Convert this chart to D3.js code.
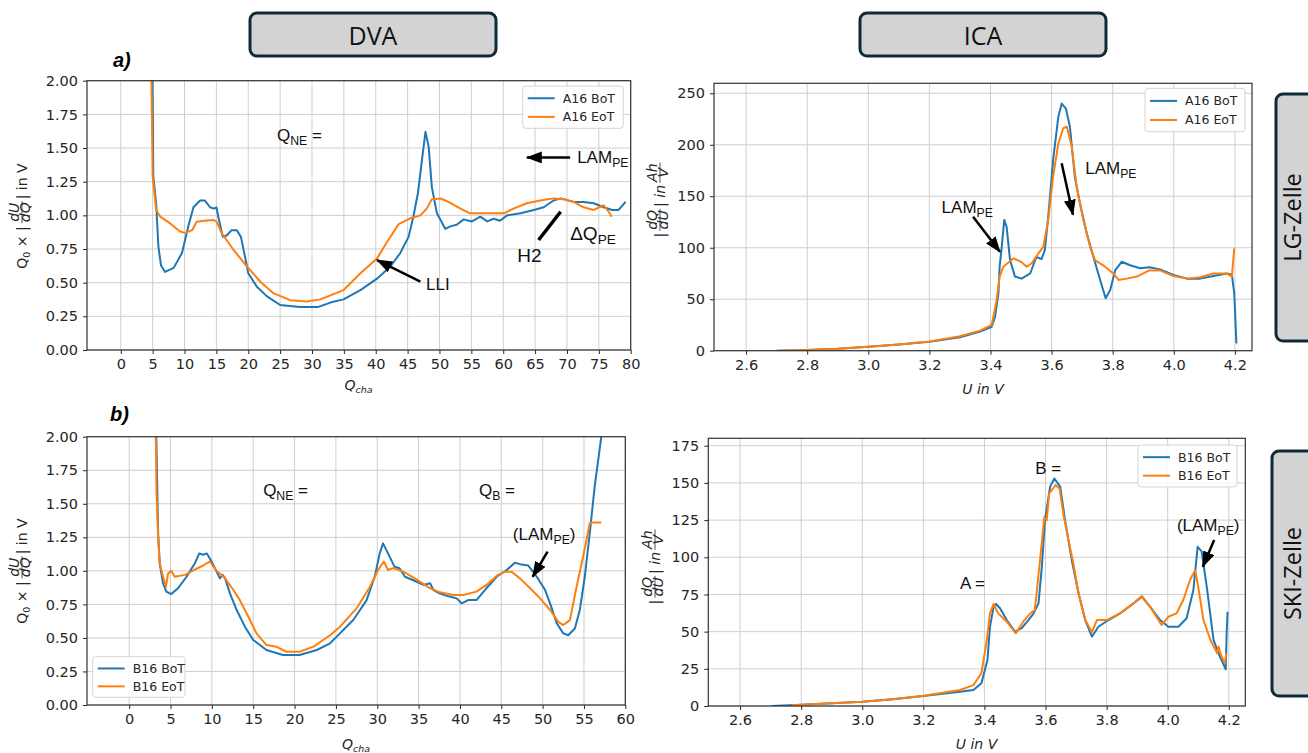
<!doctype html>
<html>
  <head>
    <meta charset="utf-8">
    <title>DVA / ICA</title>
    <script src="https://cdn.jsdelivr.net/npm/d3@7/dist/d3.min.js"></script>
    <style>
      body { margin: 0; background: #fff; }
      svg { display: block; }
      .tick text { font-family: "DejaVu Sans", sans-serif; font-size: 14.5px; fill: #262626; }
      .tick line { stroke: #262626; }
      .domain { display: none; }
      .lab { font-family: "DejaVu Sans", sans-serif; font-size: 14px; fill: #262626; }
      .note { font-family: "Liberation Sans", Arial, sans-serif; font-size: 17px; fill: #111; }
      .leg { font-family: "DejaVu Sans", sans-serif; font-size: 12.5px; fill: #262626; }
      .head { font-family: "Open Sans", sans-serif; font-size: 25px; fill: #111; }
    </style>
  </head>
  <body>
    <div id="chart"></div>
  <script>
    // ---- data ----
    var colours = ["#1f77b4", "#ff7f0e"];
    var namesA = ["A16 BoT", "A16 EoT"];
    var namesB = ["B16 BoT", "B16 EoT"];

    var dvaYTicks = [0, 0.25, 0.5, 0.75, 1, 1.25, 1.5, 1.75, 2];
    var dvaAXTicks = [0, 5, 10, 15, 20, 25, 30, 35, 40, 45, 50, 55, 60, 65, 70, 75, 80];
    var dvaBXTicks = [0, 5, 10, 15, 20, 25, 30, 35, 40, 45, 50, 55, 60];
    var icaXTicks = [2.6, 2.8, 3.0, 3.2, 3.4, 3.6, 3.8, 4.0, 4.2];
    var icaAYTicks = [0, 50, 100, 150, 200, 250];
    var icaBYTicks = [0, 25, 50, 75, 100, 125, 150, 175];

    // a) DVA, LG cell  [Q_cha, Q0*|dU/dQ|]
    var aDvaBoT = [[4.9,2.6],[5.1,1.29],[5.55,1.09],[5.9,0.77],[6.3,0.63],[6.95,0.58],[8.3,0.61],[9.6,0.72],[10.6,0.92],[11.4,1.06],[12.45,1.11],[13.2,1.11],[14.0,1.06],[14.6,1.05],[15.0,1.06],[15.3,0.99],[16.0,0.84],[16.6,0.85],[17.4,0.89],[18.2,0.89],[18.85,0.84],[19.5,0.69],[20.0,0.57],[21.35,0.47],[22.9,0.40],[25.0,0.334],[28.1,0.32],[31.0,0.32],[33.0,0.354],[34.95,0.376],[37.6,0.445],[40.2,0.53],[42.3,0.62],[43.85,0.72],[45.15,0.84],[45.9,0.99],[46.6,1.16],[47.25,1.41],[47.8,1.62],[48.3,1.51],[48.8,1.21],[49.6,1.015],[50.9,0.90],[51.8,0.92],[52.7,0.93],[53.8,0.97],[55.1,0.955],[56.4,0.99],[57.5,0.955],[58.5,0.975],[59.5,0.96],[60.6,1.0],[62.7,1.015],[64.8,1.04],[66.35,1.06],[67.9,1.11],[69.0,1.126],[71.05,1.10],[72.6,1.10],[74.2,1.09],[75.75,1.06],[77.1,1.04],[78.1,1.04],[79.2,1.10]];
    var aDvaEoT = [[4.65,2.6],[5.0,1.29],[5.55,1.04],[6.2,0.99],[7.75,0.94],[9.3,0.88],[10.1,0.87],[11.2,0.89],[11.9,0.953],[13.0,0.96],[14.55,0.965],[15.0,0.955],[15.85,0.867],[17.7,0.743],[19.8,0.62],[21.9,0.507],[24.0,0.42],[26.6,0.37],[29.2,0.36],[31.3,0.376],[34.95,0.445],[37.6,0.57],[40.2,0.68],[41.75,0.80],[43.6,0.935],[45.4,0.978],[47.0,1.0],[48.0,1.05],[48.8,1.12],[50.2,1.125],[51.4,1.10],[53.3,1.05],[54.8,1.015],[57.5,1.015],[60.1,1.015],[61.6,1.05],[63.7,1.09],[65.8,1.11],[67.9,1.126],[69.5,1.12],[71.05,1.10],[72.6,1.06],[74.2,1.04],[75.75,1.075],[76.5,1.03],[77.0,0.99]];

    // a) ICA, LG cell  [U, |dQ/dU|]
    var aIcaBoT = [[2.70,0],[2.80,0.8],[2.90,2],[3.0,3.9],[3.1,6],[3.2,8.7],[3.30,13],[3.366,18.5],[3.404,23.3],[3.415,33],[3.426,55.7],[3.43,81.6],[3.437,101],[3.445,127],[3.453,120],[3.464,88],[3.48,72],[3.502,70],[3.53,75],[3.55,91],[3.567,89],[3.578,98],[3.589,130],[3.605,185],[3.622,227],[3.633,240],[3.647,235],[3.66,217.5],[3.676,169],[3.693,143],[3.715,114],[3.737,91],[3.759,68.7],[3.777,51],[3.792,59],[3.808,78],[3.83,86.4],[3.857,83],[3.89,80],[3.92,81],[3.955,79],[3.999,73.5],[4.043,70],[4.086,70],[4.13,72.5],[4.173,75],[4.19,74],[4.198,55.7],[4.205,7]];
    var aIcaEoT = [[2.70,0],[2.80,0.8],[2.90,2],[3.0,3.9],[3.1,6],[3.2,9],[3.30,14],[3.366,19.5],[3.404,25],[3.42,49],[3.43,72],[3.442,81.6],[3.475,89.7],[3.50,86.4],[3.519,81.6],[3.535,84.9],[3.557,94.6],[3.573,101],[3.589,127],[3.605,169],[3.622,201],[3.638,216],[3.65,217.5],[3.666,198],[3.682,159],[3.704,127],[3.726,101],[3.742,88],[3.775,81.6],[3.802,75],[3.819,68.7],[3.846,70],[3.879,72],[3.92,78],[3.955,78],[3.999,72.5],[4.043,70],[4.086,71.3],[4.13,75],[4.173,75],[4.19,72],[4.198,99.5]];

    // b) DVA, SKI cell
    var bDvaBoT = [[3.1,2.6],[3.5,1.28],[3.7,1.05],[4.1,0.907],[4.5,0.845],[5.1,0.827],[5.9,0.87],[6.94,0.956],[7.95,1.056],[8.47,1.13],[8.95,1.12],[9.4,1.13],[9.97,1.07],[10.57,0.994],[10.98,0.944],[11.3,0.97],[11.6,0.944],[12.2,0.83],[13.0,0.708],[14.0,0.584],[15.0,0.485],[16.6,0.41],[18.6,0.373],[20.6,0.373],[22.7,0.41],[24.3,0.46],[25.1,0.51],[27.1,0.634],[28.7,0.78],[29.7,0.956],[30.3,1.13],[30.7,1.205],[31.3,1.13],[32.1,1.03],[32.7,1.02],[33.35,0.956],[34.35,0.93],[35.6,0.895],[36.4,0.907],[36.8,0.857],[37.6,0.83],[38.6,0.81],[39.6,0.795],[40.2,0.758],[41.0,0.782],[42.0,0.782],[43.2,0.87],[44.45,0.956],[45.65,1.006],[46.65,1.06],[47.25,1.05],[48.25,1.04],[49.3,0.956],[50.3,0.857],[50.9,0.758],[51.7,0.61],[52.5,0.534],[53.1,0.52],[53.9,0.57],[54.5,0.708],[55.1,0.956],[55.7,1.28],[56.3,1.63],[57.1,2.0],[57.4,2.2]];
    var bDvaEoT = [[3.1,2.6],[3.3,1.60],[3.5,1.255],[3.7,1.056],[4.1,0.956],[4.44,0.88],[4.7,0.98],[5.1,1.0],[5.5,0.956],[6.74,0.97],[7.95,1.01],[8.95,1.04],[9.76,1.07],[10.57,1.0],[11.6,0.944],[12.6,0.857],[13.4,0.78],[14.4,0.66],[15.4,0.534],[16.6,0.447],[17.8,0.435],[19.0,0.397],[20.6,0.397],[22.3,0.435],[24.3,0.52],[25.5,0.584],[27.5,0.72],[29.1,0.88],[30.1,1.006],[30.8,1.07],[31.3,1.006],[31.9,1.02],[33.15,0.994],[34.75,0.936],[36.4,0.87],[37.6,0.84],[39.2,0.82],[40.4,0.82],[42.0,0.845],[43.2,0.895],[44.6,0.97],[45.45,0.994],[46.25,0.994],[47.25,0.944],[48.5,0.87],[49.7,0.795],[50.9,0.708],[51.9,0.62],[52.5,0.596],[53.3,0.633],[54.1,0.88],[54.9,1.105],[55.7,1.355],[55.9,1.36],[57.1,1.36]];

    // b) ICA, SKI cell
    var bIcaBoT = [[2.704,0],[2.8,0.8],[2.9,1.8],[3.0,2.9],[3.1,4.5],[3.2,6.7],[3.32,9.6],[3.364,10.8],[3.39,15.3],[3.41,31],[3.418,53],[3.43,66.8],[3.438,68.6],[3.451,65.7],[3.473,57.8],[3.50,50],[3.522,52.3],[3.544,57.8],[3.56,62],[3.577,69],[3.588,93.7],[3.598,125],[3.615,147.5],[3.629,153],[3.648,147.5],[3.664,125],[3.686,98],[3.708,75.8],[3.73,57.8],[3.752,46.6],[3.773,53.3],[3.806,57.8],[3.844,62.3],[3.888,69],[3.915,73.5],[3.942,66.8],[3.975,57.8],[4.002,53.3],[4.035,53.3],[4.062,59],[4.084,78],[4.098,107],[4.111,104],[4.128,80],[4.15,44.4],[4.171,33],[4.19,24.7],[4.193,49],[4.196,63.4]];
    var bIcaEoT = [[2.77,0.5],[2.9,1.8],[3.0,2.9],[3.1,4.6],[3.2,6.9],[3.32,10.8],[3.364,14],[3.39,22],[3.408,44.4],[3.418,62.3],[3.43,68.6],[3.445,62.3],[3.473,56.7],[3.503,48.9],[3.527,56.7],[3.549,62],[3.565,64.6],[3.582,98],[3.596,127],[3.604,125],[3.612,143],[3.633,148.6],[3.646,146],[3.658,129.6],[3.675,111.6],[3.691,96],[3.708,75.8],[3.73,57.8],[3.752,49.6],[3.768,57.8],[3.80,57.8],[3.844,62.3],[3.888,69],[3.915,74],[3.942,66.8],[3.98,54.5],[4.002,60],[4.029,62.3],[4.051,71.3],[4.073,84.7],[4.09,91.4],[4.1,80],[4.117,57.8],[4.14,44.4],[4.162,35.5],[4.167,40],[4.172,35.5],[4.187,28.7],[4.192,35.5]];

    // ---- layout ----
    var width = 1308, height = 753;

    var svg = d3.select("#chart").append("svg")
      .attr("width", width)
      .attr("height", height);

    var defs = svg.append("defs");
    defs.append("marker")
      .attr("id", "head")
      .attr("markerUnits", "userSpaceOnUse")
      .attr("markerWidth", 16).attr("markerHeight", 12)
      .attr("refX", 15).attr("refY", 6)
      .attr("orient", "auto")
      .append("path")
      .attr("d", "M0,0 L16,6 L0,12 Z")
      .attr("fill", "#000");

    var panels = [
      { id: "aDva", left: 87, right: 630.7, top: 80.7, bottom: 350,
        xDomain: [-5.3, 80], yDomain: [0, 2], xTicks: dvaAXTicks, yTicks: dvaYTicks,
        xFmt: d3.format("d"), yFmt: d3.format(".2f"),
        series: [aDvaBoT, aDvaEoT], names: namesA,
        legend: { x: 522.7, y: 86, w: 100.6, h: 42.3 } },
      { id: "aIca", left: 714, right: 1252, top: 83.3, bottom: 350.7,
        xDomain: [2.495, 4.256], yDomain: [0, 259.7], xTicks: icaXTicks, yTicks: icaAYTicks,
        xFmt: d3.format(".1f"), yFmt: d3.format("d"),
        series: [aIcaBoT, aIcaEoT], names: namesA,
        legend: { x: 1145, y: 88.3, w: 100, h: 43.4 } },
      { id: "bDva", left: 87, right: 625.3, top: 436.7, bottom: 705,
        xDomain: [-5.1, 60], yDomain: [0, 2], xTicks: dvaBXTicks, yTicks: dvaYTicks,
        xFmt: d3.format("d"), yFmt: d3.format(".2f"),
        series: [bDvaBoT, bDvaEoT], names: namesB,
        legend: { x: 92.7, y: 656.7, w: 92.3, h: 40.6 } },
      { id: "bIca", left: 708.3, right: 1245.3, top: 438.3, bottom: 706,
        xDomain: [2.496, 4.254], yDomain: [0, 180], xTicks: icaXTicks, yTicks: icaBYTicks,
        xFmt: d3.format(".1f"), yFmt: d3.format("d"),
        series: [bIcaBoT, bIcaEoT], names: namesB,
        legend: { x: 1138, y: 445, w: 99, h: 42 } }
    ];

    panels.forEach(drawPanel);

    function drawPanel(p) {
      var x = d3.scaleLinear().domain(p.xDomain).range([p.left, p.right]);
      var y = d3.scaleLinear().domain(p.yDomain).range([p.bottom, p.top]);
      p.x = x;
      p.y = y;

      var g = svg.append("g");

      // grid
      g.selectAll(".gx").data(p.xTicks).enter().append("line")
        .attr("x1", function(d) { return x(d); }).attr("x2", function(d) { return x(d); })
        .attr("y1", p.top).attr("y2", p.bottom)
        .attr("stroke", "#cfcfcf").attr("stroke-width", 1);
      g.selectAll(".gy").data(p.yTicks).enter().append("line")
        .attr("x1", p.left).attr("x2", p.right)
        .attr("y1", function(d) { return y(d); }).attr("y2", function(d) { return y(d); })
        .attr("stroke", "#cfcfcf").attr("stroke-width", 1);

      // axes
      g.append("g")
        .attr("transform", "translate(0," + p.bottom + ")")
        .call(d3.axisBottom(x).tickValues(p.xTicks).tickFormat(p.xFmt).tickSize(4).tickPadding(5));
      g.append("g")
        .attr("transform", "translate(" + p.left + ",0)")
        .call(d3.axisLeft(y).tickValues(p.yTicks).tickFormat(p.yFmt).tickSize(4).tickPadding(5));

      // curves
      defs.append("clipPath").attr("id", "clip-" + p.id)
        .append("rect")
        .attr("x", p.left).attr("y", p.top)
        .attr("width", p.right - p.left).attr("height", p.bottom - p.top);

      var line = d3.line()
        .x(function(d) { return x(d[0]); })
        .y(function(d) { return y(d[1]); });

      g.append("g").attr("clip-path", "url(#clip-" + p.id + ")")
        .selectAll("path").data(p.series).enter().append("path")
        .attr("d", line)
        .attr("fill", "none")
        .attr("stroke", function(d, i) { return colours[i]; })
        .attr("stroke-width", 2)
        .attr("stroke-linejoin", "round");

      // frame
      g.append("rect")
        .attr("x", p.left).attr("y", p.top)
        .attr("width", p.right - p.left).attr("height", p.bottom - p.top)
        .attr("fill", "none").attr("stroke", "#333").attr("stroke-width", 1.2);

      // legend
      var L = p.legend;
      var lg = g.append("g");
      lg.append("rect")
        .attr("x", L.x).attr("y", L.y).attr("width", L.w).attr("height", L.h)
        .attr("rx", 3).attr("fill", "#fff").attr("fill-opacity", 0.85)
        .attr("stroke", "#d5d5d5");
      p.names.forEach(function(n, i) {
        var ly = L.y + L.h * (i === 0 ? 0.29 : 0.73);
        lg.append("line")
          .attr("x1", L.x + 5).attr("x2", L.x + 32)
          .attr("y1", ly).attr("y2", ly)
          .attr("stroke", colours[i]).attr("stroke-width", 2);
        lg.append("text").attr("class", "leg")
          .attr("x", L.x + 40).attr("y", ly + 4.5)
          .text(n);
      });
    }

    // ---- axis labels ----
    function qchaLabel(cx, by) {
      var t = svg.append("text").attr("class", "lab")
        .attr("x", cx).attr("y", by)
        .attr("text-anchor", "middle")
        .attr("font-style", "italic")
        .attr("font-size", "13px");
      t.append("tspan").text("Q");
      t.append("tspan").attr("font-size", "9.5px").attr("dy", 3).text("cha");
    }

    function uLabel(cx, by) {
      svg.append("text").attr("class", "lab")
        .attr("x", cx).attr("y", by)
        .attr("text-anchor", "middle")
        .attr("font-style", "italic")
        .attr("font-size", "13px")
        .text("U in V");
    }

    // small stacked fraction, returns its width
    function fraction(g, x0, num, den, italic) {
      var f = g.append("g");
      var a = f.append("text").attr("class", "lab").attr("font-size", "8.5px")
        .attr("font-style", italic ? "italic" : "normal").attr("y", -8).text(num);
      var b = f.append("text").attr("class", "lab").attr("font-size", "8.5px")
        .attr("font-style", italic ? "italic" : "normal").attr("y", 3).text(den);
      var wa = a.node().getComputedTextLength();
      var wb = b.node().getComputedTextLength();
      var w = Math.max(wa, wb) + 2;
      a.attr("x", x0 + (w - wa) / 2);
      b.attr("x", x0 + (w - wb) / 2);
      f.append("line").attr("x1", x0).attr("x2", x0 + w)
        .attr("y1", -5).attr("y2", -5)
        .attr("stroke", "#262626").attr("stroke-width", 0.8);
      return w;
    }

    function textPart(g, x0, parts) {
      var t = g.append("text").attr("class", "lab").attr("x", x0);
      parts.forEach(function(s) {
        var ts = t.append("tspan").text(s.t);
        if (s.sub) ts.attr("font-size", "9.5px").attr("dy", 3);
        if (s.up) ts.attr("dy", -3);
        if (s.it) ts.attr("font-style", "italic");
      });
      return t.node().getComputedTextLength();
    }

    function dvaYLabel(bx, cy) {
      var g = svg.append("g").attr("transform", "translate(" + bx + "," + cy + ") rotate(-90)");
      var inner = g.append("g");
      var w = 0;
      w += textPart(inner, w, [{ t: "Q" }, { t: "0", sub: true }, { t: " \u00d7 ", up: true }, { t: "|" }]) + 3;
      w += fraction(inner, w, "dU", "dQ", true) + 2;
      w += textPart(inner, w, [{ t: "| in V" }]);
      inner.attr("transform", "translate(" + (-w / 2) + ",0)");
    }

    function icaYLabel(bx, cy) {
      var g = svg.append("g").attr("transform", "translate(" + bx + "," + cy + ") rotate(-90)");
      var inner = g.append("g");
      var w = 0;
      w += textPart(inner, w, [{ t: "|" }]) + 2;
      w += fraction(inner, w, "dQ", "dU", true) + 2;
      w += textPart(inner, w, [{ t: "| " }, { t: "in", it: true }, { t: " " }]) + 2;
      w += fraction(inner, w, "Ah", "V", true);
      inner.attr("transform", "translate(" + (-w / 2) + ",0)");
    }

    qchaLabel(358.5, 390);
    qchaLabel(356, 749);
    uLabel(983, 394);
    uLabel(976.5, 749);
    dvaYLabel(27, 216);
    dvaYLabel(27, 571);
    icaYLabel(665, 200);
    icaYLabel(660, 567);

    // ---- annotations (data coordinates of each panel) ----
    function note(p, dx, dy, parts, size) {
      var t = svg.append("text").attr("class", "note")
        .attr("x", p.x(dx)).attr("y", p.y(dy));
      if (size) t.style("font-size", size + "px");
      parts.forEach(function(s) {
        var ts = t.append("tspan").text(s.t);
        if (s.sub) ts.attr("font-size", "0.72em").attr("dy", 4);
        if (s.up) ts.attr("dy", -4);
      });
    }

    function arrow(p, x1, y1, x2, y2, head) {
      var l = svg.append("line")
        .attr("x1", p.x(x1)).attr("y1", p.y(y1))
        .attr("x2", p.x(x2)).attr("y2", p.y(y2))
        .attr("stroke", "#000").attr("stroke-width", head ? 2.5 : 3.5);
      if (head) l.attr("marker-end", "url(#head)");
    }

    var pA = panels[0], pAi = panels[1], pB = panels[2], pBi = panels[3];

    note(pA, 24.5, 1.55, [{ t: "Q" }, { t: "NE", sub: true }, { t: " =", up: true }]);
    note(pA, 71.6, 1.39, [{ t: "LAM" }, { t: "PE", sub: true }]);
    arrow(pA, 70.5, 1.43, 63.7, 1.43, true);
    note(pA, 47.9, 0.445, [{ t: "LLI" }]);
    arrow(pA, 47.0, 0.507, 40.2, 0.668, true);
    note(pA, 62.2, 0.654, [{ t: "H2" }], 19);
    arrow(pA, 65.55, 0.817, 69.0, 1.027, false);
    note(pA, 70.5, 0.817, [{ t: "\u0394Q" }, { t: "PE", sub: true }], 19);

    note(pAi, 3.24, 133.7, [{ t: "LAM" }, { t: "PE", sub: true }]);
    arrow(pAi, 3.343, 130, 3.431, 96, true);
    note(pAi, 3.71, 171.6, [{ t: "LAM" }, { t: "PE", sub: true }]);
    arrow(pAi, 3.633, 182, 3.67, 132, true);

    note(pB, 16.2, 1.56, [{ t: "Q" }, { t: "NE", sub: true }, { t: " =", up: true }]);
    note(pB, 42.3, 1.56, [{ t: "Q" }, { t: "B", sub: true }, { t: " =", up: true }]);
    note(pB, 46.4, 1.23, [{ t: "(LAM" }, { t: "PE", sub: true }, { t: ")", up: true }]);
    arrow(pB, 50.6, 1.143, 48.8, 0.956, true);

    note(pBi, 3.566, 156, [{ t: "B =" }]);
    note(pBi, 3.32, 78.7, [{ t: "A =" }]);
    note(pBi, 4.03, 117.7, [{ t: "(LAM" }, { t: "PE", sub: true }, { t: ")", up: true }]);
    arrow(pBi, 4.152, 111.6, 4.115, 93.7, true);

    // panel letters
    svg.append("text").attr("x", 113).attr("y", 67)
      .attr("font-family", "Liberation Sans, Arial, sans-serif")
      .attr("font-size", "20px").attr("font-weight", "bold").attr("font-style", "italic")
      .text("a)");
    svg.append("text").attr("x", 110).attr("y", 421)
      .attr("font-family", "Liberation Sans, Arial, sans-serif")
      .attr("font-size", "20px").attr("font-weight", "bold").attr("font-style", "italic")
      .text("b)");

    // ---- header and side boxes ----
    function box(x0, y0, w, h, label, vertical) {
      svg.append("rect")
        .attr("x", x0).attr("y", y0).attr("width", w).attr("height", h)
        .attr("rx", 7).attr("fill", "#d3d3d3")
        .attr("stroke", "#0e2a38").attr("stroke-width", 3);
      var cx = x0 + w / 2, cy = y0 + h / 2;
      var t = svg.append("text").attr("class", "head")
        .attr("text-anchor", "middle")
        .attr("dominant-baseline", "central")
        .text(label);
      if (vertical) {
        t.style("font-size", "23.5px")
          .attr("transform", "translate(1292," + cy + ") rotate(-90)");
      } else {
        t.attr("x", cx).attr("y", cy);
      }
    }

    box(250, 13, 246, 43, "DVA", false);
    box(860, 13, 246, 43, "ICA", false);
    box(1276, 94, 50, 247, "LG-Zelle", true);
    box(1272, 451, 50, 245, "SKI-Zelle", true);
  </script>
  </body>
</html>
